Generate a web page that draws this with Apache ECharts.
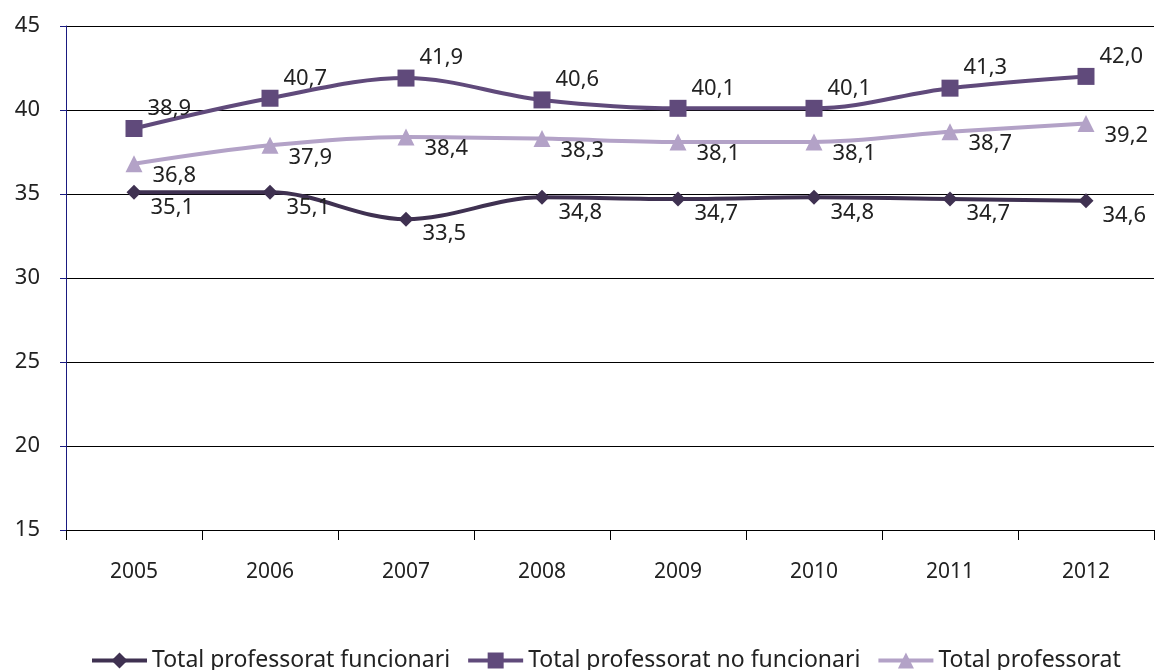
<!DOCTYPE html>
<html><head><meta charset="utf-8">
<script src="https://cdn.jsdelivr.net/npm/echarts@6/dist/echarts.min.js"></script>
<style>html,body{margin:0;padding:0;background:#fff}#c{width:1163px;height:670px}</style>
</head><body><div id="c"></div>
<script>
const years = ['2005','2006','2007','2008','2009','2010','2011','2012'];
const funcionari = [35.1, 35.1, 33.5, 34.8, 34.7, 34.8, 34.7, 34.6];
const noFuncionari = [38.9, 40.7, 41.9, 40.6, 40.1, 40.1, 41.3, 42.0];
const total = [36.8, 37.9, 38.4, 38.3, 38.1, 38.1, 38.7, 39.2];
const names = ['Total professorat funcionari', 'Total professorat no funcionari', 'Total professorat'];

const font = 'Noto Sans';
const fmt = p => p.value.toFixed(1).replace('.', ',');
const lbl = (offset) => ({show: true, position: 'right', offset: offset, formatter: fmt, color: '#222', fontSize: 22, fontFamily: font});

const chart = echarts.init(document.getElementById('c'));
chart.setOption({
  animation: false,
  grid: {left: 66, right: 9, top: 26, bottom: 140, containLabel: false},
  legend: {
    top: 644, left: 85, itemWidth: 55, itemHeight: 20, itemGap: 16,
    lineStyle: {width: 4},
    textStyle: {fontSize: 23, fontFamily: font, color: '#222'},
    data: names
  },
  xAxis: {
    type: 'category', data: years, boundaryGap: true,
    axisLine: {lineStyle: {color: '#000', width: 1}},
    axisTick: {show: true, length: 10, inside: false, lineStyle: {color: '#000'}},
    axisLabel: {fontSize: 21, fontFamily: font, color: '#222', margin: 32}
  },
  yAxis: {
    type: 'value', min: 15, max: 45, interval: 5,
    axisLine: {show: true, lineStyle: {color: '#1a1a80'}},
    axisTick: {show: true, length: 6, lineStyle: {color: '#1a1a80'}},
    splitLine: {lineStyle: {color: '#000', width: 1}},
    axisLabel: {fontSize: 22, fontFamily: font, color: '#222', margin: 26}
  },
  series: [
    {name: names[0], type: 'line', data: funcionari, smooth: 0.35,
     symbol: 'diamond', symbolSize: 15,
     itemStyle: {color: '#3F3151'}, lineStyle: {width: 4, color: '#3F3151'},
     label: lbl([4, 15])},
    {name: names[1], type: 'line', data: noFuncionari, smooth: 0.35,
     symbol: 'rect', symbolSize: 17,
     itemStyle: {color: '#604A7B'}, lineStyle: {width: 4, color: '#604A7B'},
     label: lbl([0, -20])},
    {name: names[2], type: 'line', data: total, smooth: 0.35,
     symbol: 'triangle', symbolSize: 17,
     itemStyle: {color: '#B3A2C7'}, lineStyle: {width: 4, color: '#B3A2C7'},
     label: lbl([5, 12])}
  ]
});
</script></body></html>
